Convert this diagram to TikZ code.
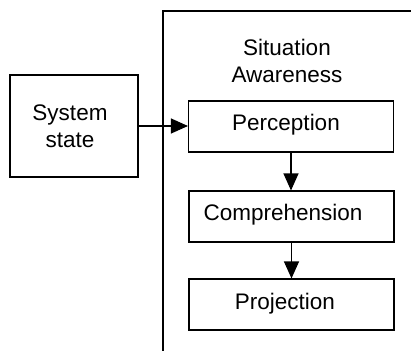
\documentclass[tikz,border=0pt]{standalone}
\usepackage{fontspec}
\setmainfont{Liberation Sans}
\usetikzlibrary{arrows.meta}
\begin{document}
\begin{tikzpicture}[x=1bp,y=-1bp,
  box/.style={draw,line width=1.1bp,rectangle,inner sep=0pt,minimum width=205bp,minimum height=51bp},
  lbl/.style={inner sep=0pt,align=center,font=\fontsize{22.5bp}{27bp}\selectfont},
  conn/.style={line width=1.1bp,-{Triangle[length=17bp,width=15bp]}}]
\useasboundingbox (0,0) rectangle (411,351);
% frame
\coordinate (fb) at (163,351);
\coordinate (ft) at (163,11);
\coordinate (fr) at (411,11);
\draw[line width=1.1bp] (fb) -- (ft) -- (fr);
% boxes
\node[box,minimum width=128bp,minimum height=102bp] (sys) at (74,126) {};
\node[box] (perc) at (291,126.5) {};
\node[box] (comp) at (291.5,216.5) {};
\node[box] (proj) at (291.5,304.5) {};
% texts
\node[lbl] (tsys) at (70,126) {System\\state};
\node[lbl] (tsa) at (287,61) {Situation\\Awareness};
\node[lbl] (tperc) at (286,125) {Perception};
\node[lbl] (tcomp) at (283,215) {Comprehension};
\node[lbl] (tproj) at (285,304) {Projection};
% connectors
\draw[conn] (sys.east) -- (sys.east -| perc.west);
\draw[conn] (perc.south) -- (perc.south |- comp.north);
\draw[conn] (comp.south) -- (comp.south |- proj.north);
\end{tikzpicture}
\end{document}
